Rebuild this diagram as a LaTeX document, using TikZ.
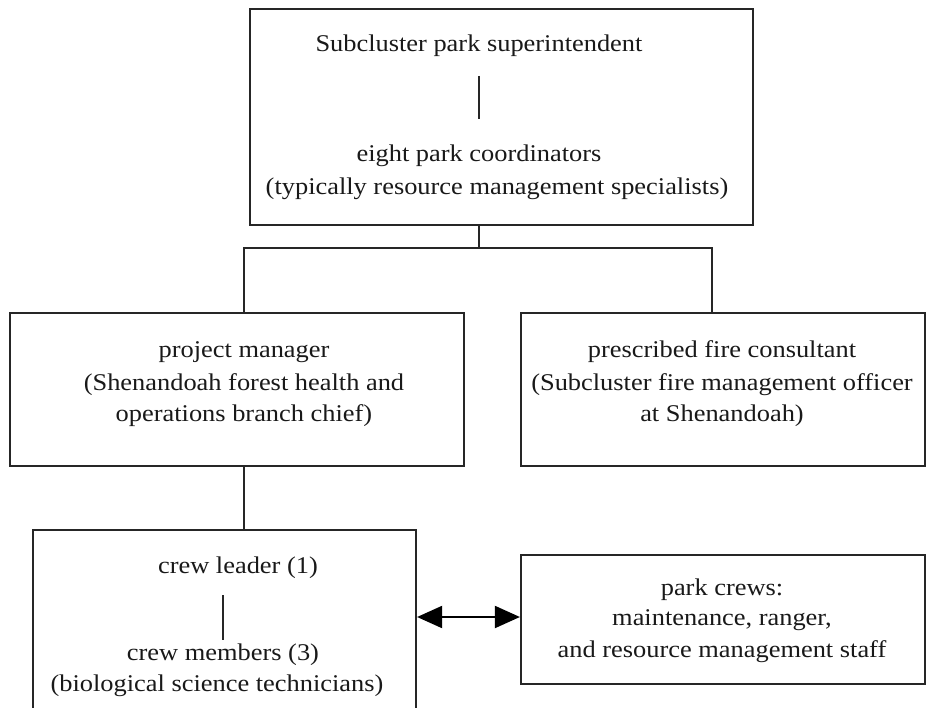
\documentclass[tikz,border=0pt]{standalone}
\usepackage{fontspec}
\setmainfont{Liberation Serif}[FakeStretch=1.1]
\usetikzlibrary{arrows.meta}
\begin{document}
\begin{tikzpicture}[x=1pt,y=-1pt,
  box/.style={draw=black!85,line width=2.2pt,rectangle,inner sep=0pt},
  lbl/.style={inner sep=0pt,anchor=base,font=\fontsize{24}{28}\selectfont,text=black!90},
  con/.style={draw=black!85,line width=2.2pt},
  link/.style={draw=black,line width=2pt,{Triangle[length=25pt,width=22pt]}-{Triangle[length=25pt,width=22pt]}}]
\useasboundingbox (0,0) rectangle (936,708);
\fill[white] (0,0) rectangle (936,708);
% boxes
\node[box,minimum width=503pt,minimum height=216pt] (top) at (501.5,117) {};
\node[box,minimum width=454pt,minimum height=153pt] (pm) at (237,389.5) {};
\node[box,minimum width=404pt,minimum height=153pt] (pf) at (723,389.5) {};
\node[box,minimum width=383pt,minimum height=186pt] (crew) at (224.5,623) {};
\node[box,minimum width=404pt,minimum height=129pt] (pc) at (723,619.5) {};
% texts
\node[lbl] (t1) at (479,52) {Subcluster park superintendent};
\node[lbl] (t2) at (479,162) {eight park coordinators};
\node[lbl] (t3) at (497,195) {(typically resource management specialists)};
\node[lbl] (p1) at (244,357) {project manager};
\node[lbl] (p2) at (244,390) {(Shenandoah forest health and};
\node[lbl] (p3) at (244,421) {operations branch chief)};
\node[lbl] (f1) at (722,357) {prescribed fire consultant};
\node[lbl] (f2) at (722,390) {(Subcluster fire management officer};
\node[lbl] (f3) at (722,421) {at Shenandoah)};
\node[lbl] (c1) at (238,573) {crew leader (1)};
\node[lbl] (c2) at (223,660) {crew members (3)};
\node[lbl] (c3) at (217,691) {(biological science technicians)};
\node[lbl] (k1) at (722,595) {park crews:};
\node[lbl] (k2) at (722,625) {maintenance, ranger,};
\node[lbl] (k3) at (722,657) {and resource management staff};
% internal lines
\coordinate (ta) at (479,76);
\coordinate (tb) at (479,119);
\draw[con] (ta) -- (tb);
\coordinate (ca) at (223,595);
\coordinate (cb) at (223,640);
\draw[con] (ca) -- (cb);
% connectors
\coordinate (j) at (479,248);
\coordinate (jl) at (244,248);
\coordinate (jr) at (712,248);
\draw[con] (j |- top.south) -- (j);
\draw[con] (pm.north -| jl) -- (jl) -- (jr) -- (pf.north -| jr);
\draw[con] (pm.south -| jl) -- (crew.north -| jl);
\coordinate (ay) at (0,617);
\draw[link] (crew.east |- ay) -- (pc.west |- ay);
\end{tikzpicture}
\end{document}
